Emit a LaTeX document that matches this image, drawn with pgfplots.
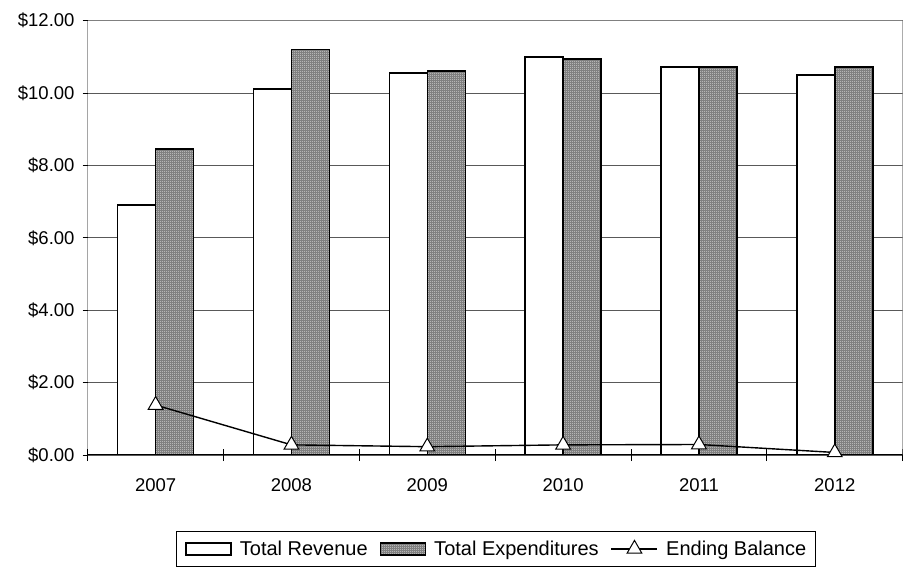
\documentclass[border=0pt]{standalone}
\usepackage{fontspec}
\setmainfont{Liberation Sans}
\usepackage{pgfplots}
\usepackage{pgfplotstable}
\pgfplotsset{compat=1.18}
\usetikzlibrary{patterns}
\pgfdeclarepatternformonly{finegrid}{\pgfqpoint{0pt}{0pt}}{\pgfqpoint{2pt}{2pt}}{\pgfqpoint{2pt}{2pt}}{%
  \pgfpathrectangle{\pgfqpoint{0pt}{0pt}}{\pgfqpoint{1pt}{1pt}}\pgfusepath{fill}}
\pgfplotsset{
  boxlegend/.style={legend image code/.code={\draw[##1] (0pt,-6pt) rectangle (45pt,6pt);}},
  linelegend/.style={legend image code/.code={\draw[mark repeat=2,mark phase=2,##1] plot coordinates {(0pt,0pt) (23pt,0pt) (46pt,0pt)};}},
}

\pgfplotstableread{
x rev exp bal
0 6.91 8.45 1.38
1 10.11 11.21 0.28
2 10.56 10.61 0.23
3 10.99 10.94 0.28
4 10.72 10.72 0.29
5 10.50 10.72 0.07
}\datatable

\begin{document}
\begin{tikzpicture}[x=1pt,y=1pt]
\path[use as bounding box] (0,0) rectangle (913,570);
\begin{axis}[
  at={(87.7pt,115pt)}, anchor=south west,
  scale only axis, width=815pt, height=434.3pt,
  xmin=-0.5, xmax=5.5, ymin=0, ymax=12,
  axis line style={draw=none},
  /pgf/number format/assume math mode=true,
  tick pos=left,
  ytick={0,2,...,12},
  yticklabel={\$\pgfmathprintnumber[fixed,fixed zerofill,precision=2]{\tick}},
  xtick={0,...,5},
  xticklabels={2007,2008,2009,2010,2011,2012},
  minor xtick={-0.5,0.5,...,5.5},
  major tick length=5pt,
  minor tick length=12pt,
  xtick align=center,
  ytick align=outside,
  major x tick style={draw=none},
  minor x tick style={draw=black, line width=0.8pt},
  major y tick style={draw=black, line width=0.8pt},
  ymajorgrids,
  grid style={draw=black!65, line width=0.8pt},
  tick label style={font=\fontsize{18.5}{22}\selectfont},
  yticklabel style={inner sep=0pt, xshift=-8pt},
  xticklabel style={inner sep=0pt, yshift=-21pt},
  legend columns=3,
  legend cell align=left,
  legend style={at={(0.1083,-0.175)}, anchor=north west, draw=black, line width=0.8pt,
    font=\fontsize{20}{24}\selectfont, inner xsep=9pt, inner ysep=9pt,
    nodes={inner sep=0pt}, column sep=8pt,
    /tikz/every even column/.append style={column sep=12pt}},
]
\addplot[ybar, bar width=0.28, bar shift=-0.14, fill=white, draw=black, line width=1.5pt, boxlegend]
  table[x=x,y=rev]{\datatable};
\addlegendentry{Total Revenue}
\addplot[ybar, bar width=0.28, bar shift=0.14, preaction={fill=black!50}, pattern=finegrid, pattern color=white, draw=black, line width=1.5pt, boxlegend]
  table[x=x,y=exp]{\datatable};
\addlegendentry{Total Expenditures}
\addplot[black, line width=1.4pt, mark=triangle*, mark size=8.5pt, mark options={fill=white, draw=black, line width=1pt}, linelegend]
  table[x=x,y=bal]{\datatable};
\addlegendentry{Ending Balance}
\draw[draw=black!50, line width=1pt] (rel axis cs:0,1) -- (rel axis cs:1,1) -- (rel axis cs:1,0);
\draw[draw=black, line width=1pt] (rel axis cs:0,1) -- (rel axis cs:0,0) -- (rel axis cs:1,0);
\end{axis}
\end{tikzpicture}
\end{document}
